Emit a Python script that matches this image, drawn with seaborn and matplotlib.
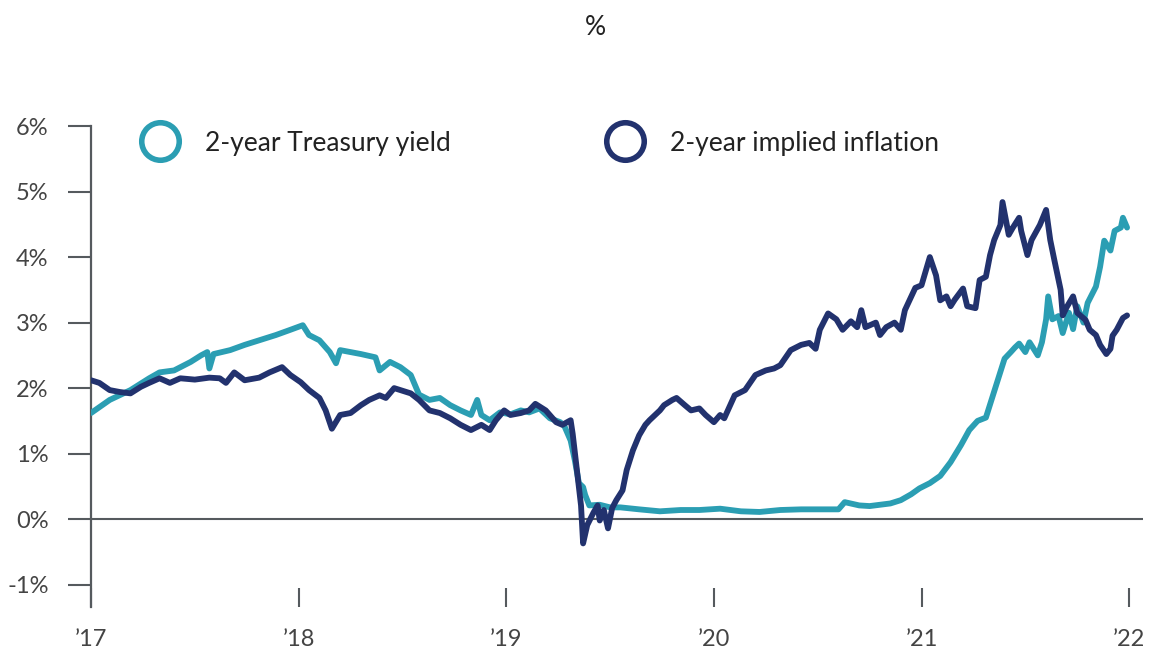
import pandas as pd
import matplotlib.pyplot as plt
import seaborn as sns
from matplotlib.lines import Line2D

# Colours
TEAL = "#2B9EB3"
NAVY = "#22326E"
GREY = "#555a5e"

# Data (x in decimal years)
treasury_years = [2017.00, 2017.09, 2017.19, 2017.28, 2017.33, 2017.40, 2017.48, 2017.53, 2017.56, 2017.57,
                  2017.59, 2017.67, 2017.74, 2017.81, 2017.89, 2017.96, 2018.02, 2018.05, 2018.10, 2018.15,
                  2018.18, 2018.20, 2018.25, 2018.30, 2018.37, 2018.39, 2018.44, 2018.49, 2018.54, 2018.58,
                  2018.63, 2018.68, 2018.73, 2018.78, 2018.83, 2018.86, 2018.88, 2018.92, 2018.97, 2019.02,
                  2019.07, 2019.11, 2019.16, 2019.21, 2019.26, 2019.28, 2019.31, 2019.33, 2019.35, 2019.37,
                  2019.38, 2019.40, 2019.45, 2019.50, 2019.55, 2019.64, 2019.74, 2019.84, 2019.93, 2020.03,
                  2020.13, 2020.22, 2020.32, 2020.42, 2020.51, 2020.60, 2020.63, 2020.70, 2020.75, 2020.85,
                  2020.90, 2020.95, 2020.99, 2021.04, 2021.09, 2021.14, 2021.19, 2021.23, 2021.27, 2021.31,
                  2021.34, 2021.38, 2021.40, 2021.43, 2021.45, 2021.47, 2021.50, 2021.52, 2021.56, 2021.58,
                  2021.60, 2021.61, 2021.63, 2021.66, 2021.68, 2021.71, 2021.73, 2021.75, 2021.78, 2021.80,
                  2021.84, 2021.86, 2021.88, 2021.91, 2021.93, 2021.96, 2021.97, 2021.99]
treasury_yield = [1.62, 1.82, 1.97, 2.15, 2.24, 2.27, 2.40, 2.50, 2.55, 2.30,
                  2.52, 2.58, 2.66, 2.73, 2.81, 2.89, 2.96, 2.81, 2.73, 2.55,
                  2.38, 2.58, 2.55, 2.52, 2.47, 2.27, 2.40, 2.32, 2.20, 1.90,
                  1.82, 1.85, 1.74, 1.66, 1.59, 1.82, 1.59, 1.51, 1.63, 1.60,
                  1.66, 1.63, 1.69, 1.54, 1.48, 1.42, 1.20, 0.90, 0.55, 0.49,
                  0.37, 0.21, 0.22, 0.18, 0.18, 0.15, 0.12, 0.14, 0.14, 0.16,
                  0.12, 0.11, 0.14, 0.15, 0.15, 0.15, 0.26, 0.21, 0.20, 0.24,
                  0.29, 0.38, 0.47, 0.55, 0.66, 0.87, 1.13, 1.36, 1.50, 1.55,
                  1.85, 2.25, 2.45, 2.55, 2.62, 2.68, 2.55, 2.70, 2.50, 2.70,
                  3.05, 3.40, 3.05, 3.10, 2.84, 3.15, 2.90, 3.25, 3.00, 3.30,
                  3.55, 3.85, 4.25, 4.10, 4.40, 4.45, 4.60, 4.45]

inflation_years = [2017.00, 2017.04, 2017.09, 2017.14, 2017.19, 2017.24, 2017.28, 2017.33, 2017.38, 2017.43,
                   2017.50, 2017.57, 2017.62, 2017.65, 2017.69, 2017.74, 2017.81, 2017.86, 2017.92, 2017.96,
                   2018.01, 2018.05, 2018.10, 2018.13, 2018.16, 2018.20, 2018.25, 2018.30, 2018.34, 2018.39,
                   2018.42, 2018.46, 2018.54, 2018.58, 2018.63, 2018.68, 2018.73, 2018.78, 2018.83, 2018.88,
                   2018.92, 2018.95, 2018.99, 2019.02, 2019.07, 2019.11, 2019.14, 2019.19, 2019.24, 2019.27,
                   2019.31, 2019.32, 2019.34, 2019.36, 2019.37, 2019.39, 2019.42, 2019.44, 2019.45, 2019.47,
                   2019.49, 2019.51, 2019.53, 2019.56, 2019.58, 2019.61, 2019.64, 2019.67, 2019.69, 2019.74,
                   2019.76, 2019.80, 2019.82, 2019.86, 2019.89, 2019.93, 2019.96, 2020.00, 2020.03, 2020.05,
                   2020.10, 2020.15, 2020.20, 2020.25, 2020.29, 2020.32, 2020.37, 2020.42, 2020.46, 2020.49,
                   2020.51, 2020.55, 2020.59, 2020.62, 2020.66, 2020.69, 2020.71, 2020.73, 2020.78, 2020.80,
                   2020.83, 2020.87, 2020.90, 2020.92, 2020.97, 2021.00, 2021.04, 2021.07, 2021.09, 2021.12,
                   2021.14, 2021.16, 2021.20, 2021.22, 2021.26, 2021.28, 2021.31, 2021.33, 2021.35, 2021.38,
                   2021.39, 2021.42, 2021.44, 2021.47, 2021.48, 2021.51, 2021.53, 2021.57, 2021.60, 2021.62,
                   2021.64, 2021.67, 2021.68, 2021.70, 2021.73, 2021.75, 2021.79, 2021.81, 2021.84, 2021.86,
                   2021.89, 2021.91, 2021.92, 2021.94, 2021.97, 2021.99]
implied_inflation = [2.12, 2.08, 1.97, 1.94, 1.92, 2.02, 2.08, 2.15, 2.08, 2.15,
                     2.13, 2.16, 2.15, 2.08, 2.24, 2.12, 2.16, 2.24, 2.32, 2.20,
                     2.09, 1.97, 1.85, 1.66, 1.38, 1.59, 1.62, 1.74, 1.82, 1.89,
                     1.85, 2.00, 1.92, 1.82, 1.66, 1.62, 1.54, 1.44, 1.36, 1.44,
                     1.36, 1.51, 1.66, 1.59, 1.62, 1.66, 1.76, 1.66, 1.48, 1.44,
                     1.51, 1.30, 0.75, 0.21, -0.37, -0.09, 0.10, 0.21, -0.02, 0.14,
                     -0.14, 0.17, 0.29, 0.44, 0.75, 1.05, 1.28, 1.44, 1.51, 1.66,
                     1.74, 1.82, 1.85, 1.74, 1.66, 1.69, 1.59, 1.48, 1.59, 1.54,
                     1.89, 1.97, 2.20, 2.27, 2.30, 2.35, 2.58, 2.66, 2.69, 2.60,
                     2.89, 3.14, 3.05, 2.89, 3.02, 2.93, 3.19, 2.93, 3.00, 2.81,
                     2.93, 3.00, 2.89, 3.19, 3.53, 3.57, 4.00, 3.72, 3.34, 3.40,
                     3.25, 3.35, 3.52, 3.25, 3.22, 3.65, 3.70, 4.03, 4.26, 4.49,
                     4.84, 4.34, 4.45, 4.60, 4.40, 4.03, 4.26, 4.49, 4.72, 4.26,
                     3.95, 3.50, 3.11, 3.24, 3.40, 3.15, 3.04, 2.89, 2.81, 2.66,
                     2.52, 2.60, 2.80, 2.89, 3.07, 3.11]

y_ticks = [-1, 0, 1, 2, 3, 4, 5, 6]
y_labels = ["-1%", "0%", "1%", "2%", "3%", "4%", "5%", "6%"]
x_ticks = [2017, 2018, 2019, 2020, 2021, 2022]
x_labels = ["\u201917", "\u201918", "\u201919", "\u201920", "\u201921", "\u201922"]
series_labels = ["2-year Treasury yield", "2-year implied inflation"]

df_t = pd.DataFrame({"year": treasury_years, "value": treasury_yield})
df_i = pd.DataFrame({"year": inflation_years, "value": implied_inflation})

# Style
sns.set_style("white")
plt.rcParams['font.family'] = ['Lato', 'DejaVu Sans']

fig = plt.figure(figsize=(11.58, 6.54), dpi=100)
ax = fig.add_axes([0.0786, 0.0719, 0.9085, 0.7354])

sns.lineplot(data=df_t, x="year", y="value", color=TEAL, linewidth=4.2, ax=ax, zorder=3)
sns.lineplot(data=df_i, x="year", y="value", color=NAVY, linewidth=4.2, ax=ax, zorder=4)

ax.axhline(0, color=GREY, linewidth=1.5, zorder=2)

ax.set_xlim(2017, 2022.067)
ax.set_ylim(-1.34, 6)
ax.set_xlabel("")
ax.set_ylabel("")

ax.set_yticks(y_ticks)
ax.set_yticklabels(y_labels)
ax.set_xticks(x_ticks)
ax.set_xticklabels(x_labels)

for s in ["top", "right", "bottom"]:
    ax.spines[s].set_visible(False)
ax.spines["left"].set_color(GREY)
ax.spines["left"].set_linewidth(1.6)

ax.tick_params(axis="y", left=True, direction="out", length=16.5, width=1.5, color=GREY,
               pad=14, labelsize=17, labelcolor="#444444")
ax.tick_params(axis="x", bottom=True, direction="in", length=14, width=1.5, color=GREY,
               pad=16, labelsize=17, labelcolor="#444444")

# Legend with hollow circles
handles = [Line2D([], [], marker="o", linestyle="none", markersize=27, markerfacecolor="white",
                  markeredgecolor=c, markeredgewidth=4) for c in (TEAL, NAVY)]
ax.legend(handles, series_labels, loc="upper left", bbox_to_anchor=(0.018, 1.04), ncol=2,
          frameon=False, fontsize=19, columnspacing=5.6, handletextpad=0.7, labelcolor="#222222")

fig.text(0.514, 0.958, "%", ha="center", va="center", fontsize=19, color="#222222")

plt.savefig("out.png", dpi=100)
